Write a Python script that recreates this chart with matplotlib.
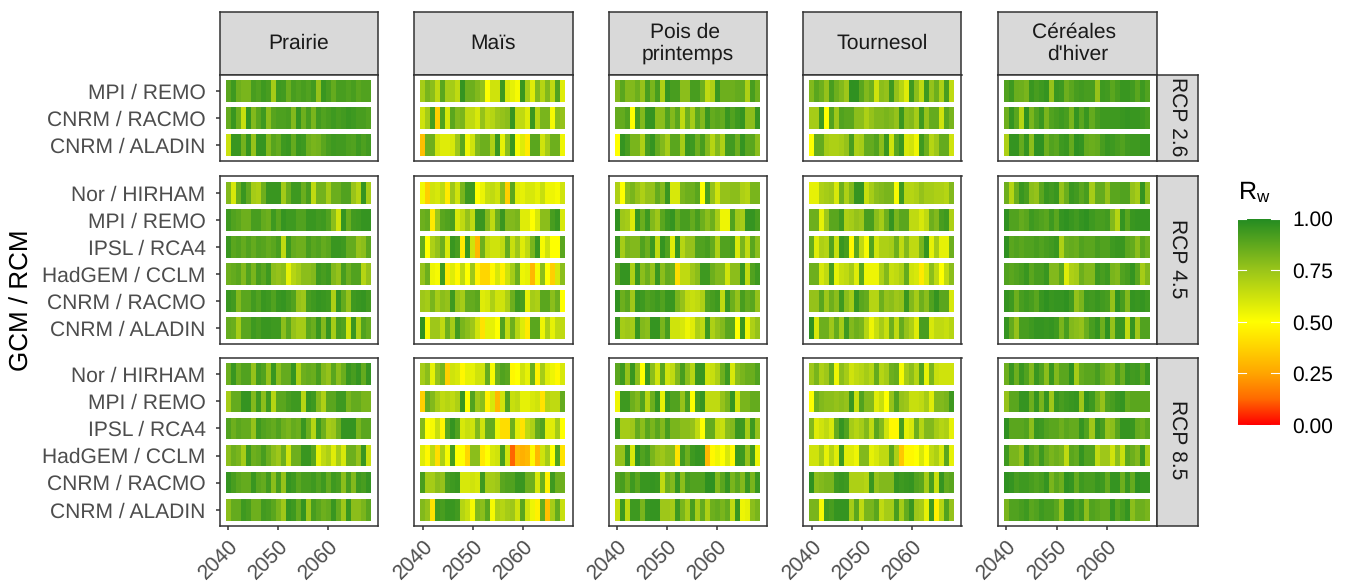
import numpy as np
import matplotlib
matplotlib.use('Agg')
import matplotlib.pyplot as plt
from matplotlib.colors import LinearSegmentedColormap

plt.rcParams['font.family'] = ['Liberation Sans', 'DejaVu Sans']
plt.rcParams['mathtext.fontset'] = 'custom'
plt.rcParams['mathtext.rm'] = 'Liberation Sans'
plt.rcParams['text.hinting'] = 'no_hinting'
plt.rcParams['text.hinting_factor'] = 1

W, H = 1351, 588

years = list(range(2040, 2069))
crops = ['Prairie', 'Maïs', 'Pois de \nprintemps', 'Tournesol', "Céréales \nd'hiver"]
rcps = ['RCP 2.6', 'RCP 4.5', 'RCP 8.5']
models_3 = ['MPI / REMO', 'CNRM / RACMO', 'CNRM / ALADIN']
models_6 = ['Nor / HIRHAM', 'MPI / REMO', 'IPSL / RCA4', 'HadGEM / CCLM', 'CNRM / RACMO', 'CNRM / ALADIN']
xticks = [2040, 2050, 2060]
cbar_ticks = [0, 0.25, 0.5, 0.75, 1]

# Rw x 100, rows from top to bottom of each panel
prairie_26 = [
    [88,94,84,82,82,92,90,94,92,72,94,93,85,92,90,92,90,93,76,95,92,86,92,92,90,92,88,90,90],
    [86,95,85,64,96,80,88,94,78,89,91,91,92,80,96,84,92,82,93,90,92,94,92,93,95,94,92,92,90],
    [63,95,95,83,96,76,96,96,80,89,86,94,95,86,95,94,84,82,83,88,92,94,93,93,91,90,94,91,93],
]
prairie_45 = [
    [80,60,85,95,87,72,70,84,95,95,95,73,85,94,94,85,92,66,83,83,72,85,85,90,90,75,68,96,72],
    [94,90,88,84,84,92,92,86,84,94,88,96,94,94,90,90,95,95,93,94,90,78,62,96,85,93,94,96,96],
    [95,88,90,86,90,86,90,89,86,88,92,66,94,86,84,84,92,88,90,86,88,95,95,94,86,86,76,78,88],
    [84,86,88,80,90,82,92,88,94,78,76,78,56,68,72,78,78,80,94,92,94,80,76,92,84,90,90,68,76],
    [95,93,80,88,88,93,90,95,94,90,95,96,93,90,76,74,92,94,96,95,94,70,96,86,76,94,95,96,93],
    [86,85,72,88,88,94,92,95,95,94,94,78,88,76,72,72,88,85,95,80,96,72,92,90,62,95,70,90,86],
]
prairie_85 = [
    [85,95,85,90,90,76,93,90,76,95,78,86,86,96,70,84,86,85,92,80,76,88,78,85,95,92,96,86,96],
    [72,86,86,96,96,80,94,78,94,68,88,88,92,94,94,68,96,94,80,70,88,88,94,94,82,86,86,82,82],
    [90,84,88,86,86,76,94,90,88,86,90,84,82,86,84,95,85,68,94,84,72,74,84,96,96,96,82,88,88],
    [78,84,82,72,94,84,86,92,85,78,74,84,62,84,84,95,95,88,56,66,70,58,72,60,84,84,76,95,64],
    [96,92,88,86,86,95,88,86,93,78,92,76,96,94,88,92,92,94,90,94,86,94,92,78,92,80,94,92,96],
    [78,86,86,94,92,84,84,93,92,88,82,74,96,94,86,96,74,92,88,84,86,95,86,74,95,78,78,82,88],
]

mais_26 = [
    [72,82,78,66,88,72,72,66,96,84,84,80,76,50,62,62,94,60,56,52,95,72,58,80,68,80,66,90,58],
    [62,72,92,36,90,60,88,80,82,66,66,60,76,66,68,74,76,78,96,66,66,58,95,68,82,82,52,78,76],
    [32,84,84,62,58,58,60,74,88,54,62,80,84,84,70,95,56,78,95,52,58,44,88,88,62,72,84,84,54],
]
mais_45 = [
    [53,36,62,60,66,44,74,62,82,94,94,50,55,64,66,62,78,36,88,58,56,60,60,56,64,54,54,52,62],
    [84,86,44,74,88,90,92,60,66,76,66,95,95,80,66,84,95,80,80,82,58,58,50,60,78,78,92,95,60],
    [86,50,70,76,84,60,95,92,44,95,62,30,84,66,62,62,66,86,64,74,58,66,82,95,52,62,50,50,88],
    [76,84,54,52,93,44,58,48,66,50,74,46,38,38,48,60,46,62,72,84,54,56,30,52,78,50,36,60,78],
    [74,72,82,72,78,76,94,76,72,86,86,88,58,60,70,62,62,70,84,94,92,56,72,70,88,88,78,84,50],
    [97,52,74,74,66,84,72,93,82,78,74,62,42,56,56,50,90,66,84,68,58,44,88,88,54,70,56,66,66],
]
mais_85 = [
    [72,78,56,76,82,36,62,60,48,56,56,62,62,86,52,84,90,88,48,50,62,56,84,46,72,58,54,48,60],
    [36,86,80,72,66,68,66,70,95,50,90,74,78,46,60,30,62,90,64,66,56,56,60,62,42,68,66,66,86],
    [80,50,52,64,47,88,96,90,60,64,62,80,62,86,86,55,40,40,84,58,42,66,70,86,90,58,58,72,50],
    [58,48,66,40,70,52,92,50,50,38,78,78,44,50,60,62,92,62,12,30,28,30,48,30,62,72,50,90,42],
    [92,72,72,78,76,92,94,95,60,60,62,60,94,72,72,74,88,90,90,95,95,84,84,60,84,46,94,84,84],
    [80,76,42,93,92,95,95,93,68,64,52,80,78,88,52,70,68,72,74,62,88,62,54,46,86,32,72,86,64],
]

pois_26 = [
    [80,88,80,80,84,76,92,82,92,70,96,92,92,78,78,92,92,84,66,70,95,84,84,84,86,86,70,92,84],
    [86,86,90,50,92,80,96,96,78,78,90,80,88,66,84,72,88,80,95,86,88,86,95,90,94,96,78,78,96],
    [50,96,92,82,82,70,92,96,86,80,72,88,88,72,95,94,84,92,80,68,80,70,93,93,84,96,88,88,78],
]
pois_45 = [
    [70,50,78,82,76,70,76,76,86,80,95,60,60,82,84,84,88,50,92,76,62,76,76,78,78,70,68,82,82],
    [97,74,72,58,95,85,94,80,74,88,94,96,86,92,92,86,92,84,78,84,72,54,54,90,74,72,96,96,92],
    [96,72,82,80,80,90,84,94,66,96,90,58,96,68,76,76,90,90,92,86,70,90,90,92,60,82,66,88,78],
    [88,96,96,70,95,78,84,76,95,78,86,84,40,66,66,74,78,94,94,84,80,80,62,78,78,95,66,90,94],
    [97,84,88,74,96,94,90,92,94,90,95,95,82,76,66,64,66,70,90,92,94,66,95,84,76,92,86,88,76],
    [96,72,74,72,95,80,78,96,96,82,92,62,62,60,54,58,70,66,94,70,76,80,88,88,50,95,54,70,76],
]
pois_85 = [
    [88,94,76,95,78,50,95,78,62,88,62,66,80,92,78,68,95,95,62,64,70,84,94,60,78,82,85,85,90],
    [54,94,94,84,80,90,68,84,96,56,95,90,90,76,92,50,92,96,66,66,66,76,82,96,62,82,82,86,86],
    [95,72,72,74,86,78,88,82,88,80,92,82,82,78,78,76,66,50,86,86,66,64,78,80,95,94,72,94,76],
    [76,76,96,60,97,90,93,82,76,74,78,78,42,93,84,94,96,95,30,48,54,50,60,48,95,94,76,93,55],
    [90,92,84,94,88,95,95,96,95,66,84,80,96,78,92,90,90,90,97,97,80,88,96,82,88,80,95,82,95],
    [64,94,66,94,94,82,95,96,96,74,74,72,94,82,72,92,72,86,70,84,86,82,86,66,95,54,56,78,82],
]

tournesol_26 = [
    [80,88,84,76,92,84,80,74,97,97,88,80,84,62,78,76,94,76,68,58,94,78,66,94,76,84,70,92,66],
    [72,72,94,50,90,74,90,88,88,78,78,70,76,80,80,82,80,76,95,78,80,72,94,76,86,86,62,88,82],
    [50,86,86,72,70,70,72,76,92,70,72,86,86,90,78,95,62,88,95,60,62,54,94,84,68,74,86,86,62],
]
tournesol_45 = [
    [56,56,70,72,74,60,84,70,80,96,96,64,72,78,80,82,82,52,94,68,68,70,76,72,72,70,70,68,80],
    [84,84,56,74,88,88,94,70,72,76,74,92,92,78,72,84,96,82,88,88,66,66,60,66,84,80,92,94,70],
    [86,58,70,68,90,64,95,92,48,88,66,52,90,62,70,70,72,84,66,80,66,66,82,96,56,72,56,56,84],
    [84,84,60,66,92,56,64,66,72,58,88,54,54,54,70,80,64,66,70,86,62,60,44,60,78,66,50,66,78],
    [76,76,88,74,84,78,94,78,72,96,88,86,68,68,84,76,78,74,76,95,80,72,84,78,90,96,88,88,60],
    [97,60,84,84,74,86,72,94,80,84,82,68,54,64,72,64,84,66,86,76,70,58,92,92,60,66,66,64,68],
]
tournesol_85 = [
    [74,82,70,74,86,54,78,72,62,66,68,72,68,86,68,72,84,86,52,72,78,68,90,56,82,64,62,62,62],
    [50,84,80,78,78,76,78,76,95,64,90,80,80,58,64,50,76,90,76,74,64,64,66,72,58,80,80,82,94],
    [80,58,62,66,60,86,96,90,72,68,72,80,66,88,80,62,48,48,92,56,60,84,68,80,80,72,68,70,56],
    [62,62,72,56,68,58,94,58,58,54,80,80,56,60,66,66,88,70,34,48,48,50,60,50,66,70,60,88,56],
    [97,78,80,82,82,94,95,94,70,70,70,68,95,76,80,80,80,96,94,95,96,90,88,72,92,64,96,86,88],
    [82,82,52,94,92,96,96,96,72,88,66,82,82,88,66,72,72,92,72,86,95,74,72,56,94,46,68,90,76],
]

cereales_26 = [
    [90,94,85,84,82,95,92,94,96,76,95,94,84,88,92,93,92,92,76,94,93,88,92,95,95,93,88,94,90],
    [84,96,88,68,97,82,90,95,82,90,92,94,92,82,96,88,95,86,92,94,94,94,94,95,96,95,95,94,92],
    [70,96,96,86,96,78,97,97,84,90,88,94,95,86,97,96,86,85,86,92,95,94,92,90,93,94,94,95,95],
]
cereales_45 = [
    [84,68,85,95,92,78,76,88,95,93,95,76,85,95,93,88,92,72,86,86,76,88,88,90,90,76,72,96,78],
    [97,90,90,86,88,94,92,90,88,94,88,96,97,95,93,96,97,94,92,92,93,80,68,96,88,95,96,96,96],
    [97,88,90,88,90,90,92,90,92,93,95,70,85,86,85,90,88,88,92,90,90,94,95,95,88,86,78,88,84],
    [90,88,90,92,95,88,92,92,95,80,80,88,58,70,72,84,80,80,94,92,94,82,80,90,92,96,88,72,80],
    [96,94,84,92,94,92,88,95,97,95,96,96,97,93,76,82,94,93,95,93,92,76,97,92,80,96,95,96,94],
    [96,86,76,92,92,94,96,96,95,96,94,82,92,80,78,76,85,92,96,84,97,76,95,95,66,96,74,90,90],
]
cereales_85 = [
    [84,95,84,95,90,80,95,90,78,95,80,88,88,97,72,86,88,88,92,86,82,80,92,85,95,93,94,88,95],
    [76,88,88,96,96,84,96,82,96,74,95,92,94,95,96,74,97,94,84,76,90,92,95,96,86,88,88,88,88],
    [97,88,88,88,90,78,95,94,90,88,88,84,88,86,86,96,90,74,96,92,76,78,88,96,96,95,86,84,88],
    [94,82,82,76,96,88,84,94,86,82,84,82,66,88,86,96,90,90,66,74,74,62,78,64,88,84,80,94,72],
    [97,96,92,94,94,92,90,92,96,82,88,84,97,96,86,94,92,92,95,94,86,96,96,84,95,86,97,96,96],
    [82,90,90,92,94,88,90,94,92,92,88,76,96,96,90,94,78,90,88,86,86,96,88,92,96,78,84,84,82],
]

table = [
    [prairie_26, prairie_45, prairie_85],
    [mais_26, mais_45, mais_85],
    [pois_26, pois_45, pois_85],
    [tournesol_26, tournesol_45, tournesol_85],
    [cereales_26, cereales_45, cereales_85],
]
row_models = [models_3, models_6, models_6]

cmap = LinearSegmentedColormap.from_list('rw', [
    (0, '#ff0000'), (0.125, '#ff6a00'), (0.25, '#ffa600'), (0.375, '#ffd400'),
    (0.5, '#ffff00'), (0.75, '#9ac51a'), (1, '#228b22')])

grey20 = '#333333'
grey30 = '#4d4d4d'
fs = 15.2


def px_axes(x0, y0, x1, y1):
    # pixel box, y counted from the top
    return fig.add_axes([x0 / W, 1 - y1 / H, (x1 - x0) / W, (y1 - y0) / H])


def strip(x0, y0, x1, y1, label, rotation=0):
    a = px_axes(x0, y0, x1, y1)
    a.set_facecolor('#d9d9d9')
    a.set_xticks([])
    a.set_yticks([])
    for s in a.spines.values():
        s.set_color(grey20)
        s.set_linewidth(1.1)
    ypos = 0.5 if rotation == 0 else 0.5 + 2 / (y1 - y0)
    a.text(0.5, ypos, label, transform=a.transAxes, ha='center', va='center',
           rotation=rotation, fontsize=fs, color='#1a1a1a', linespacing=1.2)


fig = plt.figure(figsize=(W / 100, H / 100), dpi=100)

col_x = [(219.5, 378), (414, 572.5), (608.5, 767), (803, 961.5), (997.5, 1157)]
row_y = [(75, 161.5), (176.5, 344), (358, 526)]

for c, (x0, x1) in enumerate(col_x):
    strip(x0, 12, x1, 74.5, crops[c])
    for r, (y0, y1) in enumerate(row_y):
        ax = px_axes(x0, y0, x1, y1)
        rows = table[c][r]
        n = len(rows)
        edges = np.array(years + [years[-1] + 1]) - 0.5
        for i, vals in enumerate(rows):
            ypos = n - 1 - i
            ax.pcolormesh(edges, [ypos - 0.4, ypos + 0.4], np.array([vals]) / 100,
                          cmap=cmap, vmin=0, vmax=1)
        ax.set_xlim(2038.24, 2069.9)
        ax.set_ylim(-0.6, n - 0.4)
        for s in ax.spines.values():
            s.set_color(grey20)
            s.set_linewidth(1.1)
        ax.tick_params(colors=grey20, length=3, width=1.1)
        ax.tick_params(axis='y', pad=7)
        ax.tick_params(axis='x', pad=4.5)
        if c == 0:
            ax.set_yticks(range(n))
            ax.set_yticklabels(row_models[r][::-1], fontsize=fs, color=grey30)
        else:
            ax.set_yticks([])
        if r == 2:
            ax.set_xticks(xticks)
            ax.set_xticklabels(xticks, fontsize=fs, color=grey30, rotation=45,
                               ha='right', rotation_mode='anchor')
        else:
            ax.set_xticks([])

for r, (y0, y1) in enumerate(row_y):
    strip(1157, y0, 1198, y1, rcps[r], rotation=-90)

fig.text(22 / W, 1 - 300 / H, 'GCM / RCM', rotation=90, fontsize=19,
         ha='center', va='center', color='black')

# colour bar
cax = px_axes(1237.5, 218.5, 1279.5, 425)
grad = np.linspace(1, 0, 256).reshape(-1, 1)
cax.imshow(grad, cmap=cmap, vmin=0, vmax=1, aspect='auto', extent=[0, 1, 0, 1])
for t in cbar_ticks:
    cax.plot([0, 0.2], [t, t], color='white', lw=0.8, clip_on=False)
    cax.plot([0.8, 1], [t, t], color='white', lw=0.8, clip_on=False)
cax.set_xlim(0, 1)
cax.set_ylim(0, 1)
cax.set_xticks([])
cax.yaxis.tick_right()
cax.set_yticks(cbar_ticks)
cax.set_yticklabels(['%.2f' % t for t in cbar_ticks], fontsize=fs, color='black')
cax.tick_params(length=0, pad=9)
for s in cax.spines.values():
    s.set_visible(False)
fig.text(1238 / W, 1 - 199 / H, r'$\mathrm{R_w}$', fontsize=18, ha='left', va='baseline')

fig.savefig('out.png', dpi=100)
